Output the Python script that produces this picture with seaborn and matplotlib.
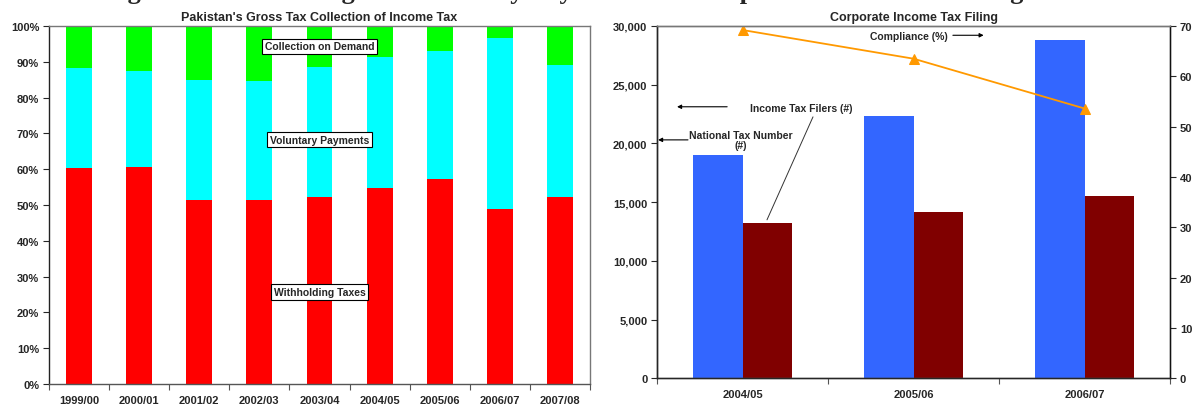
import matplotlib
matplotlib.use("Agg")
import matplotlib.pyplot as plt
import seaborn as sns
import numpy as np
import pandas as pd
from matplotlib.ticker import FuncFormatter, FixedLocator, MultipleLocator

# ---- data -------------------------------------------------------------
years_left = ["1999/00", "2000/01", "2001/02", "2002/03", "2003/04",
              "2004/05", "2005/06", "2006/07", "2007/08"]
withholding = [60.3, 60.6, 51.5, 51.5, 52.3, 54.8, 57.3, 49.0, 52.3]
voluntary = [27.9, 26.7, 33.3, 33.0, 36.3, 36.6, 35.7, 47.7, 36.9]
on_demand = [11.8, 12.7, 15.2, 15.5, 11.4, 8.6, 7.0, 3.3, 10.8]

years_right = ["2004/05", "2005/06", "2006/07"]
ntn_count = [19030, 22340, 28810]
filers_count = [13240, 14180, 15540]
compliance = [69.2, 63.5, 53.6]

sns.set_theme(style="white")
plt.rcParams["font.family"] = ["Liberation Sans", "DejaVu Sans"]
plt.rcParams["font.weight"] = "bold"

fig = plt.figure(figsize=(11.97, 4.06), dpi=100)
ax1 = fig.add_axes([0.0409, 0.0517, 0.452, 0.8818])
ax2 = fig.add_axes([0.5489, 0.0660, 0.4286, 0.8675])

# ---- left: stacked shares --------------------------------------------
df = pd.DataFrame({"year": years_left,
                   "w": withholding, "v": voluntary, "d": on_demand})
df["wv"] = df["w"] + df["v"]
df["wvd"] = df["wv"] + df["d"]
bw = 0.43
sns.barplot(data=df, x="year", y="wvd", color="#00FF00", width=bw,
            saturation=1, ax=ax1, edgecolor="none")
sns.barplot(data=df, x="year", y="wv", color="#00FFFF", width=bw,
            saturation=1, ax=ax1, edgecolor="none")
sns.barplot(data=df, x="year", y="w", color="#FF0000", width=bw,
            saturation=1, ax=ax1, edgecolor="none")

ax1.set_ylim(0, 100)
ax1.set_xlim(-0.5, len(years_left) - 0.5)
ax1.yaxis.set_major_locator(MultipleLocator(10))
ax1.yaxis.set_major_formatter(FuncFormatter(lambda v, p: f"{v:.0f}%"))
ax1.set_xlabel("")
ax1.set_ylabel("")
ax1.set_title("Pakistan's Gross Tax Collection of Income Tax",
              fontsize=9, fontweight="bold", pad=4)

box = dict(boxstyle="square,pad=0.25", fc="white", ec="black", lw=0.8)
for txt, yv in [("Collection on Demand", 94.3),
                ("Voluntary Payments", 68.2),
                ("Withholding Taxes", 25.7)]:
    ax1.text(4.0, yv, txt, ha="center", va="center", fontsize=7.5,
             fontweight="bold", bbox=box, zorder=5)

# ---- right: filings with compliance rate --------------------------------
long = pd.DataFrame({
    "year": years_right * 2,
    "count": ntn_count + filers_count,
    "kind": ["National Tax Number (#)"] * 3 + ["Income Tax Filers (#)"] * 3,
})
sns.barplot(data=long, x="year", y="count", hue="kind",
            palette=["#3366FF", "#800000"], width=0.58, saturation=1,
            ax=ax2, edgecolor="none", legend=False)
ax2.set_ylim(0, 30000)
ax2.set_xlim(-0.5, len(years_right) - 0.5)
ax2.yaxis.set_major_locator(MultipleLocator(5000))
ax2.yaxis.set_major_formatter(FuncFormatter(lambda v, p: f"{v:,.0f}"))
ax2.set_xlabel("")
ax2.set_ylabel("")
ax2.set_title("Corporate Income Tax Filing", fontsize=9,
              fontweight="bold", pad=4)

ax3 = ax2.twinx()
sns.lineplot(x=list(range(len(years_right))), y=compliance, ax=ax3,
             color="#FF9900", lw=1.3, marker="^", markersize=7,
             markeredgecolor="#FF9900")
ax3.set_ylim(0, 70)
ax3.yaxis.set_major_locator(MultipleLocator(10))
ax3.set_ylabel("")

arrow = dict(arrowstyle="-|>", color="black", lw=0.8,
             mutation_scale=6, shrinkA=0, shrinkB=0)
ax2.text(0.974, 29190, "Compliance (%)", ha="center", va="center",
         fontsize=7.5, fontweight="bold")
ax2.annotate("", xy=(1.41, 29210), xytext=(1.23, 29210),
             arrowprops=arrow)
ax2.text(0.346, 23030, "Income Tax Filers (#)", ha="center",
         va="center", fontsize=7.5, fontweight="bold")
ax2.annotate("", xy=(-0.383, 23120), xytext=(-0.09, 23120),
             arrowprops=arrow)
ax2.plot([0.412, 0.143], [22260, 13490], color="#333333", lw=0.7)
ax2.text(-0.009, 20280, "National Tax Number\n(#)", ha="center",
         va="center", fontsize=7.5, fontweight="bold", linespacing=1.0)
ax2.annotate("", xy=(-0.494, 20300), xytext=(-0.319, 20300),
             arrowprops=arrow)

# ---- axis styling -----------------------------------------------------
for ax, n in [(ax1, len(years_left)), (ax2, len(years_right))]:
    ax.xaxis.set_minor_locator(FixedLocator(np.arange(-0.5, n, 1.0)))
    ax.tick_params(axis="x", which="major", length=0, pad=8,
                   labelsize=8)
    ax.tick_params(axis="x", which="minor", length=4, width=0.8,
                   color="#555555", direction="out", bottom=True)
    ax.tick_params(axis="y", which="major", length=4, width=0.8,
                   direction="out", left=True, labelsize=8, pad=3)
    for lab in ax.get_xticklabels() + ax.get_yticklabels():
        lab.set_fontweight("bold")
    ax.spines["left"].set_color("#222222")
    ax.spines["bottom"].set_color("#555555")
    ax.spines["top"].set_color("#777777")
    ax.spines["right"].set_color("#777777")
    for s in ax.spines.values():
        s.set_linewidth(1.0)

ax3.tick_params(axis="y", which="major", length=4, width=0.8,
                direction="out", right=True, labelsize=8, pad=3)
for lab in ax3.get_yticklabels():
    lab.set_fontweight("bold")
ax3.spines["right"].set_color("#111111")
ax3.spines["top"].set_color("#777777")
for s in ax3.spines.values():
    s.set_linewidth(1.0)

# Page heading running across the top edge of the figure
fig.text(0.471, 1.003, "Figure 2: Withholding and Voluntary Payments and "
         "Corporate Income Tax Filing", ha="center", va="baseline",
         fontsize=19, fontweight="bold",
         family=["Liberation Serif", "DejaVu Serif"])

fig.savefig("out.png", dpi=100)
